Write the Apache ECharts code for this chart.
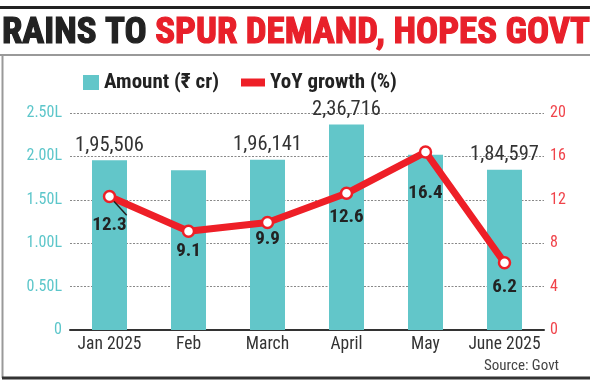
<!DOCTYPE html>
<html>
<head>
<meta charset="utf-8">
<script src="https://cdn.jsdelivr.net/npm/echarts@6/dist/echarts.min.js"></script>
<style>html,body{margin:0;padding:0;background:#fff}#c{width:600px;height:388px}</style>
</head>
<body>
<div id="c"></div>
<script>
// ---- data ----
const months = ['Jan 2025', 'Feb', 'March', 'April', 'May', 'June 2025'];
const amount = [195506, 184000, 196141, 236716, 202000, 184597];
const amountLabelShown = [true, false, true, true, false, true];
const growth = [12.3, 9.1, 9.9, 12.6, 16.4, 6.2];
const leftTicks = [0, 50000, 100000, 150000, 200000, 250000];
const rightTicks = [0, 4, 8, 12, 16, 20];
const titleDark = 'RAINS TO ';
const titleRed = 'SPUR DEMAND, HOPES GOVT';
const legendNames = ['Amount (₹ cr)', 'YoY growth (%)'];
const sourceText = 'Source: Govt';

// ---- style ----
const FONT = '"Roboto Condensed", "Liberation Sans Narrow", "DejaVu Sans Condensed", sans-serif';
const TEAL = '#62c6c9';
const RED = '#ee1f27';
const growthLabelGap = [12, 4, 0, 8, 25, 8];

const cv = document.createElement('canvas').getContext('2d');
function fitSize(text, weight, targetW, maxSize) {
  cv.font = weight + ' 100px ' + FONT;
  const w = cv.measureText(text).width;
  return Math.min(maxSize, Math.round(100 * targetW / w * 2) / 2);
}
const SZ_BARLBL = fitSize('1,95,506', 'normal', 69, 21);
const SZ_PTLBL = fitSize('12.3', 'bold', 34, 21);
const SZ_XLBL = fitSize('Jan 2025', 'normal', 64, 19);
const SZ_YLBL = fitSize('2.50L', 'normal', 35, 18);
const SZ_LEG = fitSize(legendNames[0], 'bold', 118, 21);
const SZ_SRC = fitSize(sourceText, 'normal', 76, 15);

function indianFormat(n) {
  const s = String(Math.round(n));
  if (s.length <= 3) return s;
  const last3 = s.slice(-3);
  let rest = s.slice(0, -3);
  const parts = [];
  while (rest.length > 2) { parts.unshift(rest.slice(-2)); rest = rest.slice(0, -2); }
  if (rest) parts.unshift(rest);
  return parts.join(',') + ',' + last3;
}

const TITLE_SIZE = 36;
cv.font = 'bold ' + TITLE_SIZE + 'px ' + FONT;
const titleScale = 588 / cv.measureText(titleDark + titleRed).width;

const chart = echarts.init(document.getElementById('c'), null, {renderer: 'canvas'});
const option = {
  animation: false,
  grid: {left: 70, right: 56, top: 113, bottom: 58},
  legend: [
    {
      data: [{name: legendNames[0], icon: 'rect'}],
      left: 78, top: 67, itemWidth: 16, itemHeight: 15, itemGap: 0,
      textStyle: {fontFamily: FONT, fontSize: SZ_LEG, fontWeight: 'bold', color: '#222'}
    },
    {
      data: [{name: legendNames[1], icon: 'rect', itemStyle: {color: RED, borderWidth: 0}}],
      left: 236, top: 67, itemWidth: 24, itemHeight: 8,
      textStyle: {fontFamily: FONT, fontSize: SZ_LEG, fontWeight: 'bold', color: '#222'}
    }
  ],
  xAxis: {
    type: 'category', data: months,
    axisLine: {lineStyle: {color: '#333', width: 2}},
    axisTick: {show: false},
    axisLabel: {fontFamily: FONT, fontSize: SZ_XLBL, color: '#333', margin: 6, interval: 0}
  },
  yAxis: [
    {
      type: 'value', min: leftTicks[0], max: leftTicks[leftTicks.length - 1], interval: leftTicks[1] - leftTicks[0],
      axisLine: {show: false}, axisTick: {show: false},
      splitLine: {lineStyle: {color: '#888', type: [2, 1.5], width: 1}},
      axisLabel: {fontFamily: FONT, fontSize: SZ_YLBL, color: '#5cc6ca', margin: 8,
        formatter: v => v === 0 ? '0' : (v / 100000).toFixed(2) + 'L'}
    },
    {
      type: 'value', min: rightTicks[0], max: rightTicks[rightTicks.length - 1], interval: rightTicks[1] - rightTicks[0],
      axisLine: {show: false}, axisTick: {show: false}, splitLine: {show: false},
      axisLabel: {fontFamily: FONT, fontSize: SZ_YLBL, color: '#f0434a', margin: 6}
    }
  ],
  series: [
    {
      name: legendNames[0], type: 'bar', barWidth: 35,
      itemStyle: {color: TEAL},
      data: amount.map((v, i) => ({value: v, label: {show: amountLabelShown[i]}})),
      label: {position: 'top', distance: 4, fontFamily: FONT, fontSize: SZ_BARLBL, color: '#333',
        formatter: p => indianFormat(p.value)}
    },
    {
      name: legendNames[1], type: 'line', yAxisIndex: 1, z: 5,
      lineStyle: {color: RED, width: 7},
      symbol: 'circle', symbolSize: 11,
      itemStyle: {color: '#fff', borderColor: RED, borderWidth: 2.5},
      data: growth.map((v, i) => ({
        value: v,
        label: {distance: growthLabelGap[i]},
        labelLine: i === 0 ? {show: true, smooth: 0.6, lineStyle: {color: '#222', width: 1.5}} : {show: false}
      })),
      label: {show: true, position: 'bottom', fontFamily: FONT, fontSize: SZ_PTLBL, fontWeight: 'bold', color: '#222'}
    }
  ],
  graphic: [
    {type: 'line', shape: {x1: 0, y1: 7.5, x2: 590, y2: 7.5}, style: {stroke: '#222', lineWidth: 3}},
    {type: 'line', shape: {x1: 0, y1: 55, x2: 590, y2: 55}, style: {stroke: '#999', lineWidth: 2}},
    {type: 'line', shape: {x1: 2.5, y1: 55, x2: 2.5, y2: 378}, style: {stroke: '#999', lineWidth: 2}},
    {type: 'line', shape: {x1: 2, y1: 378, x2: 590, y2: 378}, style: {stroke: '#333', lineWidth: 3}},
    {
      type: 'text', x: 2, y: 34, scaleX: titleScale,
      style: {
        text: '{a|' + titleDark + '}{b|' + titleRed + '}',
        verticalAlign: 'middle', align: 'left',
        font: 'bold ' + TITLE_SIZE + 'px ' + FONT,
        rich: {
          a: {fontFamily: FONT, fontSize: TITLE_SIZE, fontWeight: 'bold', fill: '#222', stroke: '#222', lineWidth: 1.2},
          b: {fontFamily: FONT, fontSize: TITLE_SIZE, fontWeight: 'bold', fill: '#e8202a', stroke: '#e8202a', lineWidth: 1.2}
        }
      }
    },
    {
      type: 'text', x: 559, y: 366,
      style: {text: sourceText, align: 'right', verticalAlign: 'middle', fontFamily: FONT, fontSize: SZ_SRC, fill: '#444'}
    }
  ]
};
chart.setOption(option);
</script>
</body>
</html>
